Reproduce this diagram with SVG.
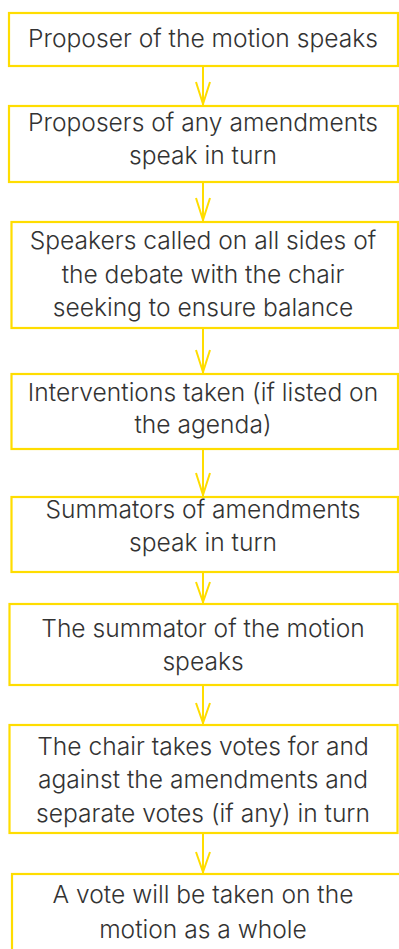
<svg xmlns="http://www.w3.org/2000/svg" width="399" height="949" viewBox="0 0 399 949">
<style>
.box{fill:#fff;stroke:#FFDD00;stroke-width:2.2}
.t{font-family:Inter,"Liberation Sans",Arial,sans-serif;font-weight:300;font-size:24.6px;fill:#333;text-anchor:middle}
.c{stroke:#FFDD00;stroke-width:2;fill:none}
</style>
<rect width="399" height="949" fill="#fff"/>
<g id="connectors">
<path class="c" d="M203 66V106M196 82L203 104L210 82"/>
<path class="c" d="M203 182V222M196 198L203 220L210 198"/>
<path class="c" d="M203 328V374M196 350L203 372L210 350"/>
<path class="c" d="M203 449V497M196 473L203 495L210 473"/>
<path class="c" d="M203 572V604M196 582L203 602L210 582"/>
<path class="c" d="M203 685V725M196 703L203 723L210 703"/>
<path class="c" d="M203 833V874M196 852L203 872L210 852"/>
</g>
<g id="n1"><rect class="box" x="9" y="13" width="389" height="53"/><text class="t" x="203" y="47">Proposer of the motion speaks</text></g>
<g id="n2"><rect class="box" x="9" y="106" width="389" height="76"/><text class="t" x="203" y="131">Proposers of any amendments</text><text class="t" x="203" y="164">speak in turn</text></g>
<g id="n3"><rect class="box" x="11.5" y="222" width="386.5" height="106"/><text class="t" x="203" y="249">Speakers called on all sides of</text><text class="t" x="203" y="283">the debate with the chair</text><text class="t" x="203" y="316">seeking to ensure balance</text></g>
<g id="n4"><rect class="box" x="11.5" y="374" width="386.5" height="75"/><text class="t" x="203" y="401">Interventions taken (if listed on</text><text class="t" x="203" y="433">the agenda)</text></g>
<g id="n5"><rect class="box" x="11.5" y="497" width="386.5" height="75"/><text class="t" x="203" y="518">Summators of amendments</text><text class="t" x="203" y="551">speak in turn</text></g>
<g id="n6"><rect class="box" x="9.5" y="604" width="388" height="81"/><text class="t" x="203" y="637">The summator of the motion</text><text class="t" x="203" y="670">speaks</text></g>
<g id="n7"><rect class="box" x="9.5" y="725" width="388" height="108"/><text class="t" x="203" y="755">The chair takes votes for and</text><text class="t" x="203" y="788">against the amendments and</text><text class="t" x="203" y="822">separate votes (if any) in turn</text></g>
<g id="n8"><rect class="box" x="12" y="874" width="400" height="90"/><text class="t" x="203" y="903">A vote will be taken on the</text><text class="t" x="203" y="938">motion as a whole</text></g>
</svg>
